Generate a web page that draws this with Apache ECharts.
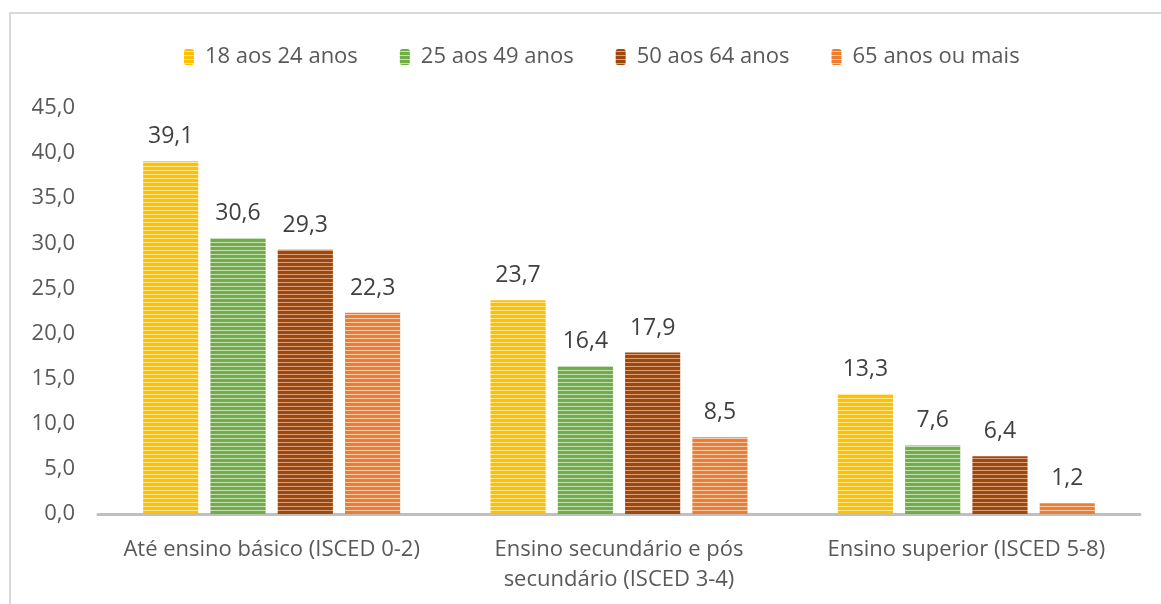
<!DOCTYPE html>
<html><head><meta charset="utf-8">
<script src="https://cdn.jsdelivr.net/npm/echarts@6/dist/echarts.min.js"></script>
<style>html,body{margin:0;padding:0;background:#fff;overflow:hidden}#c{width:1161px;height:604px}</style>
</head><body><div id="c"></div>
<script>
const categories = ['Até ensino básico (ISCED 0-2)', 'Ensino secundário e pós\nsecundário (ISCED 3-4)', 'Ensino superior (ISCED 5-8)'];
const seriesNames = ['18 aos 24 anos', '25 aos 49 anos', '50 aos 64 anos', '65 anos ou mais'];
const s18_24 = [39.1, 23.7, 13.3];
const s25_49 = [30.6, 16.4, 7.6];
const s50_64 = [29.3, 17.9, 6.4];
const s65 = [22.3, 8.5, 1.2];
const seriesValues = [s18_24, s25_49, s50_64, s65];
const baseColors = ['#FFC000', '#70AD47', '#9E480E', '#ED7D31'];
const lightColors = ['#FFE699', '#C5E0B4', '#D9A27A', '#F8CBAD'];

function stripe(base, light) {
  const c = document.createElement('canvas');
  c.width = 8; c.height = 4;
  const g = c.getContext('2d');
  g.fillStyle = base; g.fillRect(0, 0, 8, 4);
  g.fillStyle = light; g.fillRect(0, 2, 8, 1);
  return { image: c, repeat: 'repeat' };
}

const fmt = v => Number(v).toFixed(1).replace('.', ',');
const font = '"Open Sans", "Liberation Sans", sans-serif';
const chart = echarts.init(document.getElementById('c'));
chart.setOption({
  animation: false,
  backgroundColor: '#fff',
  graphic: [{ type: 'rect', shape: { x: 10, y: 13, width: 1300, height: 800 }, style: { fill: 'none', stroke: '#d9d9d9', lineWidth: 2 }, silent: true }],
  legend: {
    top: 41, left: 179, itemWidth: 10, itemHeight: 16, itemGap: 42,
    textStyle: { fontFamily: font, fontSize: 22, color: '#595959', padding: [0, 0, 0, 6] },
    data: seriesNames
  },
  grid: { left: 98, right: 21, top: 108, bottom: 90 },
  xAxis: {
    type: 'category', data: categories,
    axisLine: { lineStyle: { color: '#bfbfbf', width: 3 } },
    axisTick: { show: false },
    axisLabel: { interval: 0, hideOverlap: false, fontFamily: font, fontSize: 22, color: '#595959', margin: 21, lineHeight: 30 }
  },
  yAxis: {
    type: 'value', min: 0, max: 45, interval: 5,
    splitLine: { show: false }, axisLine: { show: false }, axisTick: { show: false },
    axisLabel: { fontFamily: font, fontSize: 22, color: '#595959', margin: 23, formatter: fmt }
  },
  series: seriesNames.map((n, i) => ({
    name: n, type: 'bar', data: seriesValues[i],
    barGap: '22%', barCategoryGap: '26%',
    itemStyle: { color: stripe(baseColors[i], lightColors[i]) },
    label: { show: true, position: 'top', distance: 13, fontFamily: font, fontSize: 23, color: '#404040', formatter: p => fmt(p.value) }
  }))
});
</script></body></html>
